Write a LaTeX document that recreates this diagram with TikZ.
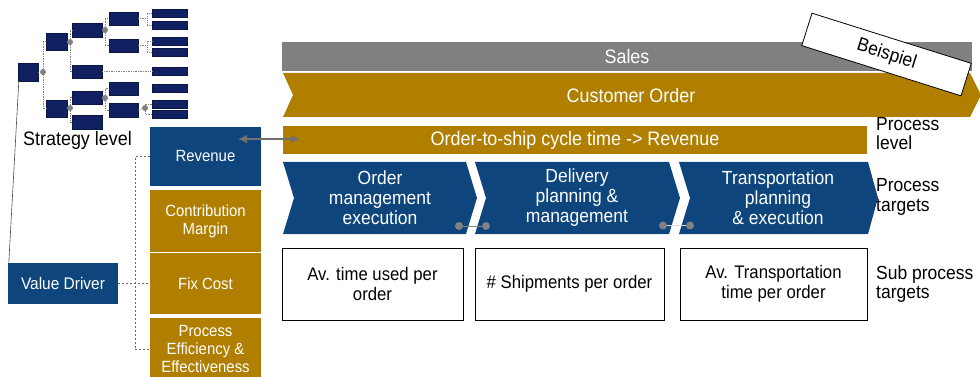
\documentclass[tikz,border=0pt]{standalone}
\usepackage{fontspec}
\setmainfont{Liberation Sans}[FakeStretch=0.92]
\usetikzlibrary{arrows.meta}
\definecolor{gold}{RGB}{176,127,0}
\definecolor{vblue}{RGB}{13,69,124}
\definecolor{navy}{RGB}{16,32,96}
\definecolor{barg}{RGB}{128,128,128}
\definecolor{arrg}{RGB}{112,112,112}
\definecolor{dotg}{RGB}{130,130,130}
\begin{document}
\begin{tikzpicture}[x=1pt,y=-1pt,
  fbox/.style={inner sep=0, align=center, text=white},
  bartext/.style={font=\fontsize{19.5}{21}\selectfont, text=white, inner sep=0, align=center},
  chevtext/.style={font=\fontsize{19}{20}\selectfont, text=white, inner sep=0, align=center},
  boxtext/.style={draw=black, line width=1pt, fill=white, inner sep=0, align=center, font=\fontsize{18.2}{20}\selectfont},
  sidetext/.style={font=\fontsize{19}{19.5}\selectfont, inner sep=0, align=left, anchor=west},
  coltext/.style={fbox, font=\fontsize{16.2}{18}\selectfont},
  tb/.style={fill=navy, draw=navy!70!black, line width=0.4pt, inner sep=0},
  tj/.style={circle, fill=dotg, inner sep=0, minimum size=6},
  tcon/.style={draw=gray, line width=0.7pt, densely dotted},
  dcon/.style={draw=gray!80!black, line width=0.6pt, dash pattern=on 2pt off 2pt},
  pdot/.style={circle, fill=dotg, inner sep=0, minimum size=8}
]
\useasboundingbox (0,0) rectangle (980,377);

% ---------- strategy tree ----------
\node[tb, minimum width=20, minimum height=18] (r) at (28,72) {};
\node[tb, minimum width=21, minimum height=17] (a) at (56.5,41.5) {};
\node[tb, minimum width=21, minimum height=17] (b) at (56.5,108.5) {};
\node[tb, minimum width=30, minimum height=14] (aa) at (87,30) {};
\node[tb, minimum width=30, minimum height=13] (ab) at (87,71.5) {};
\node[tb, minimum width=30, minimum height=13] (ba) at (87,97.5) {};
\node[tb, minimum width=30, minimum height=14] (bb) at (87,122) {};
\node[tb, minimum width=29, minimum height=13] (aaa) at (123.5,18.5) {};
\node[tb, minimum width=29, minimum height=13] (aab) at (123.5,45.5) {};
\node[tb, minimum width=29, minimum height=13] (baa) at (123.5,88.5) {};
\node[tb, minimum width=29, minimum height=14] (bab) at (123.5,110) {};
\foreach \n/\yy in {l1/13.5,l2/25,l3/41.5,l4/52,l5/71.5,l6/88,l7/104,l8/114}
  \node[tb, minimum width=35, minimum height=8] (\n) at (169.5,\yy) {};
\node[tj] (c1) at (43,72) {};
\node[tj] (c2) at (70,42) {};
\node[tj] (c3) at (105,30) {};
\node[tj] (c4) at (70,108) {};
\node[tj] (c5) at (105,98) {};
\node[tj] (c6) at (145,108) {};
\coordinate (j1) at (147,18.5);
\coordinate (j2) at (147,45.5);
\draw[tcon] (r.east) -- (c1);
\draw[tcon] (c1.center) |- (a.west);
\draw[tcon] (c1.center) |- (b.west);
\draw[tcon] (a.east) -- (c2);
\draw[tcon] (c2.center) |- (aa.west);
\draw[tcon] (c2.center) |- (ab.west);
\draw[tcon] (aa.east) -- (c3);
\draw[tcon] (c3.center) |- (aaa.west);
\draw[tcon] (c3.center) |- (aab.west);
\draw[tcon] (aaa.east) -- (j1);
\draw[tcon] (j1) |- (l1.west);
\draw[tcon] (j1) |- (l2.west);
\draw[tcon] (aab.east) -- (j2);
\draw[tcon] (j2) |- (l3.west);
\draw[tcon] (j2) |- (l4.west);
\draw[tcon] (ab.east) -- (l5.west);
\draw[tcon] (b.east) -- (c4);
\draw[tcon] (c4.center) |- (ba.west);
\draw[tcon] (c4.center) |- (bb.west);
\draw[tcon] (ba.east) -- (c5);
\draw[tcon] (c5.center) |- (baa.west);
\draw[tcon] (c5.center) |- (bab.west);
\draw[tcon] (bab.east) -- (c6);
\draw[tcon] (c6.center) |- (l7.west);
\draw[tcon] (c6.center) |- (l8.west);

\node[font=\fontsize{19.5}{20}\selectfont, inner sep=0] (strat) at (77.5,140) {Strategy level};

% ---------- value driver column ----------
\node[coltext, fill=vblue, minimum width=110, minimum height=41, font=\fontsize{16.8}{18}\selectfont] (vd) at (63,283.5) {Value Driver};
\node[coltext, fill=vblue, minimum width=111, minimum height=59] (rev) at (205.5,156.5) {Revenue};
\node[coltext, fill=gold, minimum width=111, minimum height=62] (cm) at (205.5,221) {Contribution\\Margin};
\node[coltext, fill=gold, minimum width=111, minimum height=61] (fc) at (205.5,283.5) {Fix Cost};
\node[coltext, fill=gold, minimum width=111, minimum height=63] (pe) at (205.5,349.5) {Process\\Efficiency \&\\Effectiveness};
\draw[draw=gray!60!black, line width=0.6pt] (r.south west) ++(1,0) -- ([xshift=1pt]vd.north west);
\coordinate (vx) at (135,284);
\draw[dcon] (vd.east) -- (fc.west);
\draw[dcon] (rev.west) -| (vx) |- (pe.west);

% ---------- process bars ----------
\node[bartext, fill=barg, minimum width=690, minimum height=29] (sales) at (627,56.5) {Sales};
\fill[gold] (283,73) -- (970,73) -- (981,95) -- (970,117) -- (283,117) -- (293,95) -- cycle;
\node[bartext] (co) at (631,95.5) {Customer Order};
\node[bartext, fill=gold, minimum width=584, minimum height=28] (otc) at (575,140) {Order-to-ship cycle time -> Revenue};
\coordinate (arL) at (238,139);
\coordinate (arR) at (300,139);
\draw[arrg, line width=2.6pt, {Latex[length=9pt,width=9pt]}-{Latex[length=9pt,width=9pt]}] (arL) -- (arR);

% chevrons
\fill[vblue] (283,162) -- (466,162) -- (477,198) -- (466,234) -- (283,234) -- (294,198) -- cycle;
\fill[vblue] (475,162) -- (669,162) -- (680,198) -- (669,234) -- (475,234) -- (486,198) -- cycle;
\fill[vblue] (679,162) -- (868,162) -- (878,198) -- (868,234) -- (679,234) -- (690,198) -- cycle;
\node[chevtext] (p1) at (380,198) {Order\\management\\execution};
\node[chevtext] (p2) at (577,198) {Delivery\\planning \&\\management};
\node[chevtext] (p3) at (778,198) {Transportation\\planning\\\& execution};
\node[pdot] (d1) at (459,226) {};
\node[pdot] (d2) at (486,226) {};
\node[pdot] (d3) at (663,225.5) {};
\node[pdot] (d4) at (690,225.5) {};
\draw[dotg, line width=0.8pt] (d1) -- (d2);
\draw[gray!30, line width=0.8pt] (d3) -- (d4);

% sub process boxes
\node[boxtext, minimum width=181, minimum height=72] (s1) at (372.5,284) {Av. time used per\\order};
\node[boxtext, minimum width=189, minimum height=72] (s2) at (569.5,284) {\# Shipments per order};
\node[boxtext, minimum width=187, minimum height=72] (s3) at (773.5,284) {Av. Transportation\\time per order};

% side labels
\node[sidetext] (lv1) at (876,133.5) {Process\\level};
\node[sidetext] (lv2) at (876,197) {Process\\targets};
\node[sidetext] (lv3) at (876,284) {Sub process\\targets};

% Beispiel tag
\node[draw=black, line width=0.8pt, fill=white, rotate=-17.5, minimum width=167, minimum height=34, inner sep=0, font=\fontsize{19}{20}\selectfont] (bsp) at (886.5,54.5) {Beispiel};
\end{tikzpicture}
\end{document}
